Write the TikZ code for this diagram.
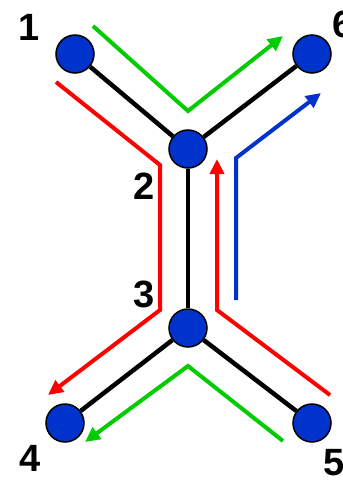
\documentclass[tikz,border=0pt]{standalone}
\usepackage{fontspec}
\setmainfont{Liberation Sans}
\usetikzlibrary{arrows.meta}
\definecolor{nodeblue}{RGB}{0,51,204}
\definecolor{pgreen}{RGB}{0,204,0}
\definecolor{pred}{RGB}{255,0,0}
\definecolor{pblue}{RGB}{0,51,204}
\begin{document}
\begin{tikzpicture}[x=1pt,y=-1pt,
  vertex/.style={circle,draw=black,line width=1.5pt,fill=nodeblue,minimum size=38pt,inner sep=0pt},
  edge/.style={line width=4.5pt,black},
  path/.style={line width=4pt},
  arr/.style={-{Triangle[length=15pt,width=14pt]}},
  lab/.style={font=\fontsize{38}{38}\selectfont\bfseries,inner sep=0pt}]
\useasboundingbox (0,0) rectangle (343,480);
\node[vertex] (n1) at (75,54) {};
\node[vertex] (n6) at (312,54) {};
\node[vertex] (n2) at (188,149) {};
\node[vertex] (n3) at (188,328) {};
\node[vertex] (n4) at (65,423) {};
\node[vertex] (n5) at (312,423) {};
\draw[edge] (n1) -- (n2);
\draw[edge] (n6) -- (n2);
\draw[edge] (n2) -- (n3);
\draw[edge] (n3) -- (n4);
\draw[edge] (n3) -- (n5);
\node[lab] (l1) at (29,27) {1};
\node[lab] (l6) at (343,24) {6};
\node[lab] (l2) at (144,186) {2};
\node[lab] (l3) at (144,294) {3};
\node[lab] (l4) at (30,458) {4};
\node[lab] (l5) at (334,463) {5};
% green top
\coordinate (gt0) at (93,26);
\coordinate (gt1) at (188,111);
\coordinate (gt2) at (283,36);
\draw[path,pgreen,arr] (gt0) -- (gt1) -- (gt2);
% red left
\coordinate (rl0) at (56,82);
\coordinate (rl1) at (160,165);
\coordinate (rl2) at (160,310);
\coordinate (rl3) at (48,395);
\draw[path,pred,arr] (rl0) -- (rl1) -- (rl2) -- (rl3);
% red right
\coordinate (rr0) at (330,395);
\coordinate (rr1) at (217,310);
\coordinate (rr2) at (217,159);
\draw[path,pred,arr] (rr0) -- (rr1) -- (rr2);
% blue
\coordinate (b0) at (236,300);
\coordinate (b1) at (236,158);
\coordinate (b2) at (321,93);
\draw[path,pblue,arr] (b0) -- (b1) -- (b2);
% green bottom
\coordinate (gb0) at (283,441);
\coordinate (gb1) at (188,366);
\coordinate (gb2) at (85,442);
\draw[path,pgreen,arr] (gb0) -- (gb1) -- (gb2);
\end{tikzpicture}
\end{document}
